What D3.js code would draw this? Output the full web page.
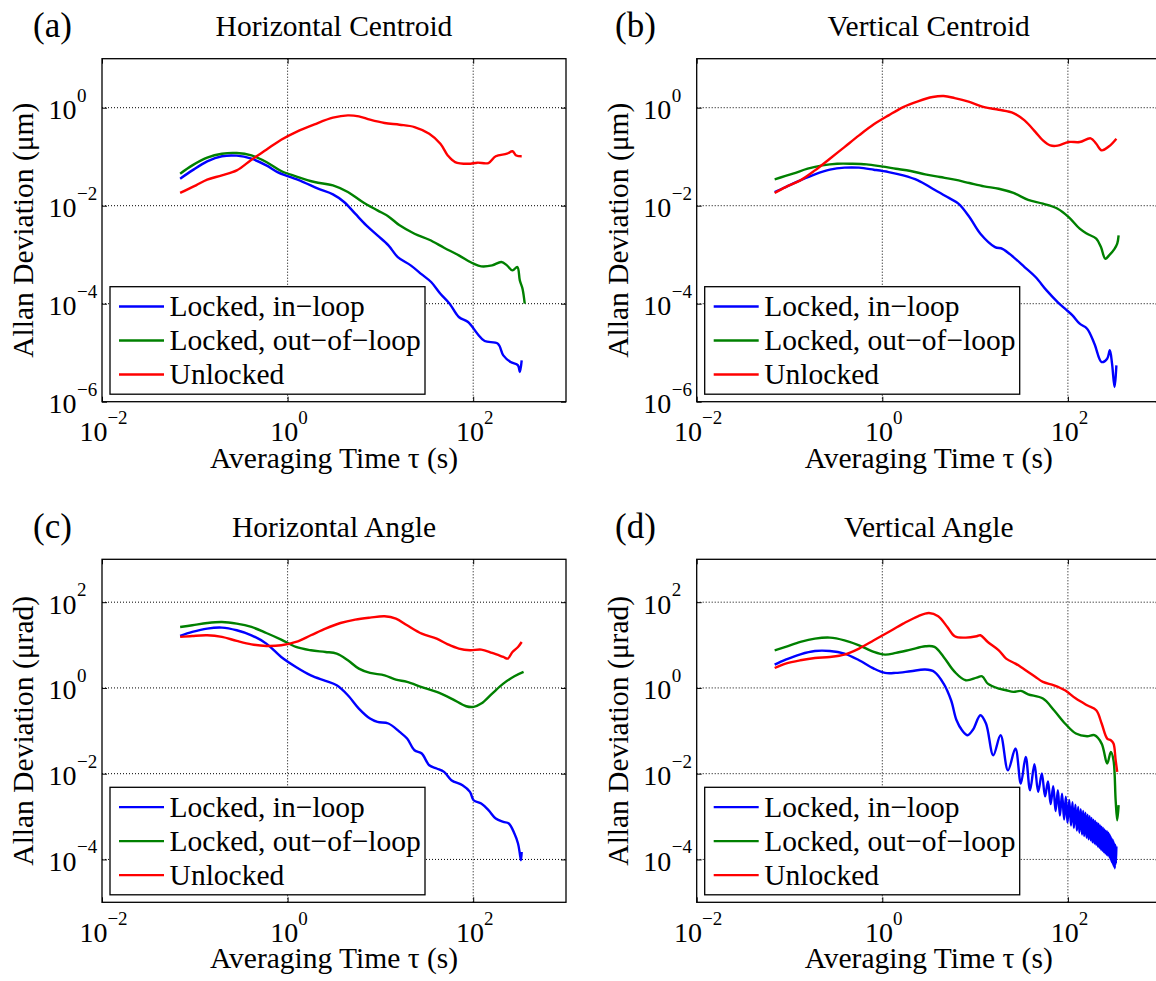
<!DOCTYPE html>
<html lang="en">
<head>
  <meta charset="UTF-8" />
  <title>Allan Deviation</title>
  <script src="https://d3js.org/d3.v7.min.js"></script>
  <style>
    body {
      margin: 0;
      background: #fff;
    }
    svg {
      display: block;
      font-family: "Liberation Serif", "Times New Roman", serif;
    }
  </style>
</head>
<body>
  <svg id="fig" width="1156" height="981"></svg>

  <script>
    const titles = ["Horizontal Centroid", "Vertical Centroid", "Horizontal Angle", "Vertical Angle"];
    const letters = ["(a)", "(b)", "(c)", "(d)"];
    const units = ["\u03bcm", "\u03bcm", "\u03bcrad", "\u03bcrad"];
    const seriesNames = ["Locked, in\u2212loop", "Locked, out\u2212of\u2212loop", "Unlocked"];
    const xDomain = [1e-2, 1e3];
    const xTickExps = [-2, 0, 2];
    const yDomains = [[1e-6, 1e1], [1e-6, 1e1], [1e-5, 1e3], [1e-5, 1e3]];
    const yTickExps = [[-6, -4, -2, 0], [-6, -4, -2, 0], [-4, -2, 0, 2], [-4, -2, 0, 2]];

    // [tau (s), Allan deviation]
    const aBlue = [[0.0695, 0.0356], [0.094, 0.0526], [0.136, 0.0803], [0.196, 0.102], [0.283, 0.105], [0.408, 0.091],
      [0.59, 0.0665], [0.778, 0.0486], [1.02, 0.0397], [1.48, 0.0304], [2.13, 0.0222], [3.08, 0.017], [4.06, 0.0119],
      [5.35, 0.00687], [7.05, 0.00397], [9.29, 0.00248], [12.2, 0.00155], [15.4, 0.000895], [21.2, 0.000605],
      [27.9, 0.000397], [35.2, 0.000277], [44.3, 0.00016], [55.7, 0.0001], [70, 5.35e-5], [88.1, 4.23e-5],
      [111, 2.44e-5], [133, 1.73e-5], [184, 1.53e-5], [211, 8.83e-6], [253, 6.45e-6], [304, 5.51e-6],
      [318, 4.03e-6], [333, 6.98e-6]];
    const aGreen = [[0.0695, 0.045], [0.094, 0.0665], [0.136, 0.0955], [0.196, 0.115], [0.283, 0.119], [0.408, 0.106],
      [0.59, 0.0778], [0.853, 0.051], [1.23, 0.0397], [1.95, 0.0304], [3.08, 0.026], [4.46, 0.019], [6.43, 0.0119],
      [9.29, 0.00803], [12.2, 0.00605], [16.1, 0.00397], [23.3, 0.00268], [33.6, 0.00202], [48.5, 0.00139],
      [70, 0.00097], [101, 0.000655], [122, 0.000578], [160, 0.000605], [201, 0.000708], [231, 0.000605],
      [265, 0.000479], [299, 0.00056], [318, 0.000299], [340, 0.000202], [359, 0.0001]];
    const aRed = [[0.0695, 0.0182], [0.103, 0.026], [0.136, 0.034], [0.196, 0.0416], [0.283, 0.0526], [0.408, 0.0869],
      [0.59, 0.139], [0.853, 0.222], [1.23, 0.318], [1.95, 0.457], [3.08, 0.625], [4.46, 0.698], [5.86, 0.665],
      [7.73, 0.569], [11.1, 0.486], [16.1, 0.45], [23.3, 0.403], [33.6, 0.294], [44.3, 0.184], [53.2, 0.106],
      [63.8, 0.0778], [88.1, 0.0719], [111, 0.0755], [146, 0.0743], [175, 0.102], [231, 0.115], [265, 0.129],
      [291, 0.106], [333, 0.102]];

    const bBlue = [[0.0692, 0.019], [0.0908, 0.024], [0.131, 0.0329], [0.188, 0.0436], [0.272, 0.0543], [0.391, 0.0597],
      [0.562, 0.0597], [0.811, 0.0543], [1.17, 0.0486], [1.68, 0.0416], [2.42, 0.0329], [3.49, 0.0222], [5.02, 0.015],
      [6.61, 0.011], [8.68, 0.00587], [11.4, 0.00268], [16.4, 0.00143], [19.7, 0.00132], [25.9, 0.000895],
      [34.1, 0.00056], [44.8, 0.00035], [58.9, 0.000187], [77.5, 0.000108], [93, 7.9e-5], [112, 5.78e-5],
      [134, 3.91e-5], [161, 3.09e-5], [193, 1.53e-5], [231, 6.45e-6], [265, 7.55e-6], [283, 1.12e-5],
      [299, 5.97e-6], [318, 1.99e-6], [333, 5.51e-6]];
    const bGreen = [[0.0692, 0.0345], [0.109, 0.045], [0.157, 0.0569], [0.226, 0.0665], [0.326, 0.0719], [0.469, 0.0719],
      [0.676, 0.0698], [0.973, 0.0635], [1.4, 0.0569], [2.02, 0.051], [2.9, 0.0436], [4.19, 0.0385], [6.03, 0.034],
      [8.68, 0.029], [12.5, 0.0248], [18, 0.0222], [25.9, 0.0182], [37.3, 0.0132], [53.8, 0.011], [77.5, 0.00869],
      [102, 0.00587], [134, 0.0034], [161, 0.00268], [202, 0.00212], [227, 0.00143], [253, 0.000828],
      [278, 0.00097], [318, 0.00132], [340, 0.00168], [352, 0.00248]];
    const bRed = [[0.0692, 0.0182], [0.0908, 0.024], [0.131, 0.0329], [0.188, 0.0526], [0.272, 0.091], [0.391, 0.157],
      [0.562, 0.272], [0.811, 0.457], [1.17, 0.698], [1.68, 1.03], [2.42, 1.35], [3.49, 1.65], [4.58, 1.73],
      [6.03, 1.57], [8.68, 1.31], [12.5, 1.03], [18, 0.91], [25.9, 0.778], [34.1, 0.551], [44.8, 0.318],
      [53.8, 0.215], [64.6, 0.17], [77.5, 0.168], [102, 0.199], [134, 0.199], [176, 0.237], [202, 0.184],
      [231, 0.135], [278, 0.163], [333, 0.233]];

    const cBlue = [[0.0695, 16.3], [0.094, 20.2], [0.136, 24.2], [0.196, 25.5], [0.283, 22.1], [0.408, 16.9],
      [0.59, 10.8], [0.853, 5.28], [1.23, 3.09], [1.78, 1.97], [2.56, 1.46], [3.38, 1.15], [4.46, 0.675],
      [5.86, 0.33], [7.73, 0.193], [9.29, 0.161], [12.2, 0.148], [16.1, 0.0942], [19.4, 0.0659], [23.3, 0.0352],
      [27.9, 0.0295], [33.6, 0.0157], [40.4, 0.0132], [48.5, 0.011], [58.2, 0.00705], [76.7, 0.00538],
      [92.3, 0.00377], [101, 0.0024], [122, 0.00201], [146, 0.00141], [175, 0.0009], [211, 0.000752],
      [242, 0.000689], [278, 0.000402], [304, 0.000235], [318, 0.000137], [327, 9.6e-5], [333, 0.00015]];
    const cGreen = [[0.0695, 26.4], [0.094, 28.9], [0.136, 32.7], [0.196, 34.5], [0.283, 31.6], [0.408, 26.4],
      [0.59, 19.1], [0.853, 13.4], [1.23, 9.03], [1.78, 7.55], [2.56, 6.9], [3.38, 6.31], [4.46, 4.42],
      [5.86, 2.82], [7.73, 2.24], [11.1, 1.97], [14.7, 1.56], [19.4, 1.38], [27.9, 1.05], [40.4, 0.807],
      [58.2, 0.564], [84.1, 0.374], [101, 0.361], [122, 0.431], [160, 0.738], [211, 1.26], [278, 1.87], [349, 2.36]];
    const cRed = [[0.0695, 15.5], [0.094, 16.3], [0.136, 16.9], [0.196, 15.5], [0.283, 12.5], [0.408, 10.4],
      [0.59, 9.53], [0.853, 9.88], [1.23, 11.8], [1.78, 16.9], [2.56, 24.2], [3.71, 32.7], [5.35, 39.2],
      [7.73, 43.6], [11.1, 46.9], [14.7, 41.3], [19.4, 28.9], [27.9, 18.5], [40.4, 14.1], [53.2, 10.4],
      [70, 8.26], [92.3, 7.55], [122, 7.83], [160, 6.55], [211, 5.28], [236, 4.83], [265, 6.9], [304, 9.03], [333, 11.8]];

    const dBlue = [[0.0692, 3.5], [0.0908, 4.57], [0.131, 6.09], [0.188, 7.28], [0.272, 7.28], [0.391, 6.31],
      [0.562, 4.42], [0.811, 2.82], [1.07, 2.24], [1.4, 2.24], [2.02, 2.45], [2.9, 2.68], [3.65, 2.36],
      [4.58, 1.26], [5.51, 0.516], [6.31, 0.176], [7.23, 0.103], [8.3, 0.0788], [9.51, 0.107], [11.4, 0.231],
      [13.1, 0.148], [15.7, 0.0269], [18.8, 0.0788], [22.6, 0.012], [27.2, 0.0385], [31.1, 0.00589], [35.1, 0.0246],
      [39.1, 0.00412], [43.6, 0.0166], [47.8, 0.00377], [52.4, 0.0101], [56.7, 0.00295], [61, 0.0066],
      [65.2, 0.00195], [69.5, 0.0051], [73.7, 0.00135], [78, 0.0041], [82, 0.00105], [86.5, 0.0034],
      [91, 0.00085], [95, 0.0029], [99, 0.00072], [103.5, 0.00245], [108, 0.00062], [112, 0.00215],
      [116, 0.00054], [120.5, 0.0019], [125, 0.00047], [129, 0.00167], [133, 0.00042], [137.5, 0.00149],
      [142, 0.00038], [146, 0.00135], [150, 0.00035], [154.5, 0.00123], [159, 0.00032], [163, 0.0011],
      [167, 0.000295], [171.5, 0.00102], [176, 0.00028], [180, 0.00093], [184, 0.00025], [188.5, 0.00085],
      [193, 0.000235], [197, 0.00079], [201, 0.00022], [205.5, 0.00072], [210, 0.0002], [214, 0.00068],
      [218, 0.000186], [222.5, 0.00062], [227, 0.00017], [231, 0.00058], [235, 0.000158], [239.5, 0.00054],
      [244, 0.000148], [248, 0.0005], [252, 0.000138], [256.5, 0.00047], [261, 0.000129], [265, 0.00045],
      [269, 0.000123], [273.5, 0.00042], [278, 0.000115], [282, 0.00038], [286, 0.000102], [290.5, 0.00034],
      [295, 8.7e-5], [299, 0.0003], [303, 7.8e-5], [307.5, 0.00028], [312, 6.8e-5], [316, 0.00024],
      [320, 6.2e-5], [324.5, 0.00022], [329, 7.9e-5], [333, 0.0002]];
    const dGreen = [[0.0692, 7.55], [0.0908, 9.03], [0.131, 11.8], [0.188, 14.1], [0.272, 14.9], [0.391, 12.9],
      [0.562, 9.88], [0.811, 6.9], [1.07, 5.98], [1.4, 6.55], [2.02, 7.83], [2.9, 9.36], [3.65, 9.03],
      [4.58, 5.28], [6.03, 2.36], [7.93, 1.51], [10.4, 1.74], [11.9, 1.87], [13.7, 1.26], [18, 0.964],
      [21.6, 0.882], [25.9, 0.807], [31.1, 0.851], [37.3, 0.711], [53.8, 0.564], [70.8, 0.302], [93, 0.148],
      [122, 0.0863], [161, 0.0747], [193, 0.0788], [231, 0.0504], [265, 0.0172], [290, 0.0322], [310, 0.0206],
      [327, 0.0024], [340, 0.000822], [352, 0.00184]];
    const dRed = [[0.0692, 2.92], [0.0908, 3.69], [0.131, 4.42], [0.188, 5.0], [0.272, 5.28], [0.391, 5.98],
      [0.562, 8.26], [0.811, 12.9], [1.17, 20.2], [1.68, 31.6], [2.42, 46.9], [3.18, 56], [4.0, 46.9],
      [5.02, 26.4], [6.03, 16], [7.93, 14.9], [10.4, 16], [11.4, 16.9], [13.7, 11.8], [18, 7.55], [21.6, 4.83],
      [27.2, 3.69], [31.1, 3.09], [37.3, 2.36], [44.8, 1.8], [53.8, 1.38], [70.8, 1.15], [93, 0.882],
      [122, 0.564], [161, 0.394], [202, 0.302], [231, 0.148], [265, 0.0659], [290, 0.0603], [310, 0.0504],
      [327, 0.0206], [340, 0.011]];

    const panelSeries = [
      [aBlue, aGreen, aRed],
      [bBlue, bGreen, bRed],
      [cBlue, cGreen, cRed],
      [dBlue, dGreen, dRed]
    ];

    const svg = d3.select("#fig");
    const W = 464, H = 343;
    const origins = [[102, 58.7], [696.7, 58.7], [102, 559.3], [696.7, 559.3]];
    const letterX = [33, 615, 33, 615];
    const colors = ["#0000ff", "#008000", "#ff0000"];

    panelSeries.forEach((series, i) => {
      const [left, top] = origins[i];
      const x = d3.scaleLog().domain(xDomain).range([left, left + W]);
      const y = d3.scaleLog().domain(yDomains[i]).range([top + H, top]);
      const g = svg.append("g");

      const xt = xTickExps.map(e => Math.pow(10, e));
      const yt = yTickExps[i].map(e => Math.pow(10, e));

      // dotted grid
      g.selectAll(".vgrid")
        .data(xt.filter(v => v > xDomain[0]))
        .join("line")
        .attr("x1", d => x(d)).attr("x2", d => x(d))
        .attr("y1", top).attr("y2", top + H)
        .attr("stroke", "#000").attr("stroke-width", 1)
        .attr("stroke-dasharray", "1,2");

      g.selectAll(".hgrid")
        .data(yt.filter(v => v > yDomains[i][0]))
        .join("line")
        .attr("x1", left).attr("x2", left + W)
        .attr("y1", d => y(d)).attr("y2", d => y(d))
        .attr("stroke", "#000").attr("stroke-width", 1)
        .attr("stroke-dasharray", "1,2");

      // axes with inward ticks on all four sides
      g.append("g").attr("transform", `translate(0,${top + H})`)
        .call(d3.axisBottom(x).tickValues(xt).tickSizeInner(-5).tickSizeOuter(0).tickFormat(""));
      g.append("g").attr("transform", `translate(0,${top})`)
        .call(d3.axisTop(x).tickValues(xt).tickSizeInner(-5).tickSizeOuter(0).tickFormat(""));
      g.append("g").attr("transform", `translate(${left},0)`)
        .call(d3.axisLeft(y).tickValues(yt).tickSizeInner(-5).tickSizeOuter(0).tickFormat(""));
      g.append("g").attr("transform", `translate(${left + W},0)`)
        .call(d3.axisRight(y).tickValues(yt).tickSizeInner(-5).tickSizeOuter(0).tickFormat(""));
      g.selectAll(".domain").remove();
      g.selectAll(".tick line").attr("stroke", "#000").attr("stroke-width", 1);

      const line = d3.line()
        .x(d => x(d[0]))
        .y(d => y(d[1]))
        .curve(d3.curveCatmullRom.alpha(0.5));

      series.forEach((s, k) => {
        g.append("path")
          .datum(s)
          .attr("d", line)
          .attr("fill", "none")
          .attr("stroke", colors[k])
          .attr("stroke-width", 2.4)
          .attr("stroke-linejoin", "round");
      });

      g.append("rect")
        .attr("x", left).attr("y", top)
        .attr("width", W).attr("height", H)
        .attr("fill", "none")
        .attr("stroke", "#000")
        .attr("stroke-width", 1.3);

      // x tick labels 10^n
      const xl = g.selectAll(".xlab")
        .data(xTickExps)
        .join("text")
        .attr("x", d => x(Math.pow(10, d)) + 1.5)
        .attr("y", top + H + 39.5)
        .attr("text-anchor", "middle")
        .attr("font-size", 28);
      xl.append("tspan").text("10");
      xl.append("tspan").attr("dy", -17).attr("font-size", 19)
        .text(d => d < 0 ? "\u2212" + (-d) : d);

      // y tick labels
      g.selectAll(".ylab")
        .data(yTickExps[i])
        .join("text")
        .attr("x", left - 25.5)
        .attr("y", d => y(Math.pow(10, d)) + 11.5)
        .attr("text-anchor", "end")
        .attr("font-size", 28)
        .text("10");
      g.selectAll(".yexp")
        .data(yTickExps[i])
        .join("text")
        .attr("x", left - 25)
        .attr("y", d => y(Math.pow(10, d)) - 6)
        .attr("font-size", 19)
        .text(d => d < 0 ? "\u2212" + (-d) : d);

      g.append("text")
        .attr("x", left + W / 2)
        .attr("y", top + H + 66)
        .attr("text-anchor", "middle")
        .attr("font-size", 29.5)
        .text("Averaging Time \u03c4 (s)");

      g.append("text")
        .attr("transform", `translate(${left - 69},${top + H / 2}) rotate(-90)`)
        .attr("text-anchor", "middle")
        .attr("font-size", 29.5)
        .text(`Allan Deviation (${units[i]})`);

      g.append("text")
        .attr("x", left + W / 2)
        .attr("y", top - 22.7)
        .attr("text-anchor", "middle")
        .attr("font-size", 29.5)
        .text(titles[i]);

      g.append("text")
        .attr("x", letterX[i])
        .attr("y", top - 21.7)
        .attr("font-size", 35)
        .text(letters[i]);

      // legend
      const lg = g.append("g").attr("transform", `translate(${left + 8},${top + 228})`);
      lg.append("rect")
        .attr("width", 315).attr("height", 107.5)
        .attr("fill", "#fff")
        .attr("stroke", "#000")
        .attr("stroke-width", 1.3);
      seriesNames.forEach((name, k) => {
        const by = 29.3 + k * 34;
        lg.append("line")
          .attr("x1", 9).attr("x2", 54)
          .attr("y1", by - 9.5).attr("y2", by - 9.5)
          .attr("stroke", colors[k])
          .attr("stroke-width", 2.4);
        lg.append("text")
          .attr("x", 59.6)
          .attr("y", by)
          .attr("font-size", 29.5)
          .text(name);
      });
    });
  </script>
</body>
</html>
